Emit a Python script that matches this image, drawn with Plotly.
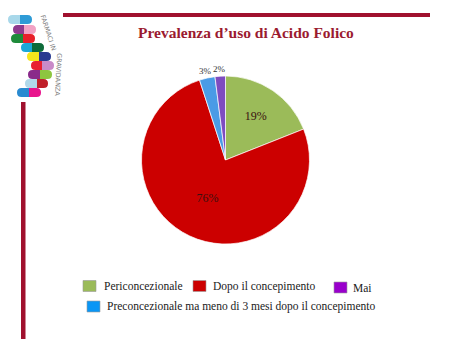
import math
import plotly.graph_objects as go

W, H = 463, 354

# ---- data ----
categories = ["Periconcezionale", "Dopo il concepimento",
              "Preconcezionale ma meno di 3 mesi dopo il concepimento", "Mai"]
values = [19, 76, 3, 2]
slice_colors = ["#9BBB59", "#CC0000", "#4A9BE6", "#7E4CC0"]
legend_order = ["Periconcezionale", "Dopo il concepimento", "Mai",
                "Preconcezionale ma meno di 3 mesi dopo il concepimento"]
legend_colors = {"Periconcezionale": "#9BBB59", "Dopo il concepimento": "#CC0000",
                 "Mai": "#9900CC",
                 "Preconcezionale ma meno di 3 mesi dopo il concepimento": "#0A96F5"}
title_text = "Prevalenza d’uso di Acido Folico"
logo_text_parts = ["FARMACI IN", "GRAVIDANZA"]


def px(x):
    return x / W


def py(y):
    return 1 - y / H


# pie placement (pixels)
PX0, PX1, PY0, PY1 = 141, 310, 76, 244

fig = go.Figure()

total = sum(values)
inside = [v / total >= 0.05 for v in values]
texts = [f"{round(100 * v / total)}%" if ins else "" for v, ins in zip(values, inside)]

fig.add_trace(go.Pie(
    labels=categories, values=values, sort=False, direction="clockwise",
    rotation=0,
    marker=dict(colors=slice_colors, line=dict(color="rgba(255,255,255,0.7)", width=1)),
    text=texts, textinfo="text",
    textposition="inside",
    insidetextorientation="horizontal",
    textfont=dict(family="Liberation Serif", size=12, color="#3a1010"),
    domain=dict(x=[px(PX0), px(PX1)], y=[py(PY1), py(PY0)]),
    showlegend=False, hoverinfo="label+percent",
))

shapes = []
annotations = []

# small-slice labels outside the pie, at each slice's mid angle
cx, cy0 = (PX0 + PX1) / 2, (PY0 + PY1) / 2
R = min(PX1 - PX0, PY1 - PY0) / 2
cum = 0
for v, ins in zip(values, inside):
    mid = (cum + v / 2) / total * 2 * math.pi
    cum += v
    if ins:
        continue
    rr = R + 7
    lx = cx + rr * math.sin(mid)
    ly = cy0 - rr * math.cos(mid)
    annotations.append(dict(text=f"{round(100 * v / total)}%", xref="paper", yref="paper",
                            x=px(lx), y=py(ly), showarrow=False,
                            xanchor="center", yanchor="middle",
                            font=dict(family="Liberation Serif", size=9, color="#333333")))

# decorative bars
bar_col = "#A0112E"
shapes.append(dict(type="rect", xref="paper", yref="paper", x0=px(63), x1=px(430),
                   y0=py(17), y1=py(13), fillcolor=bar_col, line_width=0))
shapes.append(dict(type="rect", xref="paper", yref="paper", x0=px(21), x1=px(25.5),
                   y0=py(339), y1=py(102), fillcolor=bar_col, line_width=0))

# logo pills
pills = [
    (15, 24, 8, 20, 32, "#A8D8EA", "#2E9BD6"),
    (25, 34, 13, 24, 36, "#8E3A8E", "#F2A2C4"),
    (34, 43, 11, 23, 35, "#1E8B3A", "#E8202A"),
    (43, 52, 21, 32, 44, "#1BA8D8", "#0E6B3A"),
    (52, 61, 27, 39, 51, "#F5E61C", "#2A3A90"),
    (61, 70, 31, 42, 54, "#E82030", "#C98AC8"),
    (70, 79, 28, 40, 52, "#8A2A8A", "#8DC63F"),
    (79, 88, 25, 37, 48, "#B0D8EA", "#C0202A"),
    (88, 97, 17, 29, 41, "#2A8AD0", "#E8148C"),
]
for (y0, y1, xa, xm, xb, cl, cr) in pills:
    r = (y1 - y0) / 2
    ym = (y0 + y1) / 2
    left = (f"M {px(xm)},{py(y0)} L {px(xa + r)},{py(y0)} "
            f"Q {px(xa)},{py(y0)} {px(xa)},{py(ym)} "
            f"Q {px(xa)},{py(y1)} {px(xa + r)},{py(y1)} L {px(xm)},{py(y1)} Z")
    right = (f"M {px(xm)},{py(y0)} L {px(xb - r)},{py(y0)} "
             f"Q {px(xb)},{py(y0)} {px(xb)},{py(ym)} "
             f"Q {px(xb)},{py(y1)} {px(xb - r)},{py(y1)} L {px(xm)},{py(y1)} Z")
    shapes.append(dict(type="path", xref="paper", yref="paper", path=left,
                       fillcolor=cl, line_width=0))
    shapes.append(dict(type="path", xref="paper", yref="paper", path=right,
                       fillcolor=cr, line_width=0))

# curved logo caption approximated in two rotated pieces
for txt, (lx, ly, ang) in zip(logo_text_parts, [(48.5, 32.5, 72), (58, 75, 93)]):
    annotations.append(dict(text=txt, xref="paper", yref="paper", x=px(lx), y=py(ly),
                            showarrow=False, textangle=ang, xanchor="center",
                            yanchor="middle",
                            font=dict(family="DejaVu Sans", size=6.5, color="#808080")))

# title
annotations.append(dict(text=f"<b>{title_text}</b>", xref="paper", yref="paper",
                        x=px(246), y=py(33),
                        showarrow=False, xanchor="center", yanchor="middle",
                        font=dict(family="Liberation Serif", size=15.5, color="#9B1B30")))

# legend (manual)
leg_pos = {
    "Periconcezionale": (83, 286, 102),
    "Dopo il concepimento": (193, 286, 211),
    "Mai": (334, 287.5, 351),
    "Preconcezionale ma meno di 3 mesi dopo il concepimento": (87, 306.5, 105),
}
for name in legend_order:
    bx, cy, tx = leg_pos[name]
    shapes.append(dict(type="rect", xref="paper", yref="paper", x0=px(bx), x1=px(bx + 13),
                       y0=py(cy + 5.5), y1=py(cy - 5.5), fillcolor=legend_colors[name],
                       line=dict(color="#9a9a9a", width=0.6)))
    annotations.append(dict(text=name, xref="paper", yref="paper", x=px(tx), y=py(cy),
                            showarrow=False, xanchor="left", yanchor="middle",
                            font=dict(family="Liberation Serif", size=11.5, color="#1a1a1a")))

fig.update_layout(
    width=W, height=H, margin=dict(l=0, r=0, t=0, b=0),
    paper_bgcolor="white", plot_bgcolor="white",
    shapes=shapes, annotations=annotations,
)

fig.write_html("out.html")
